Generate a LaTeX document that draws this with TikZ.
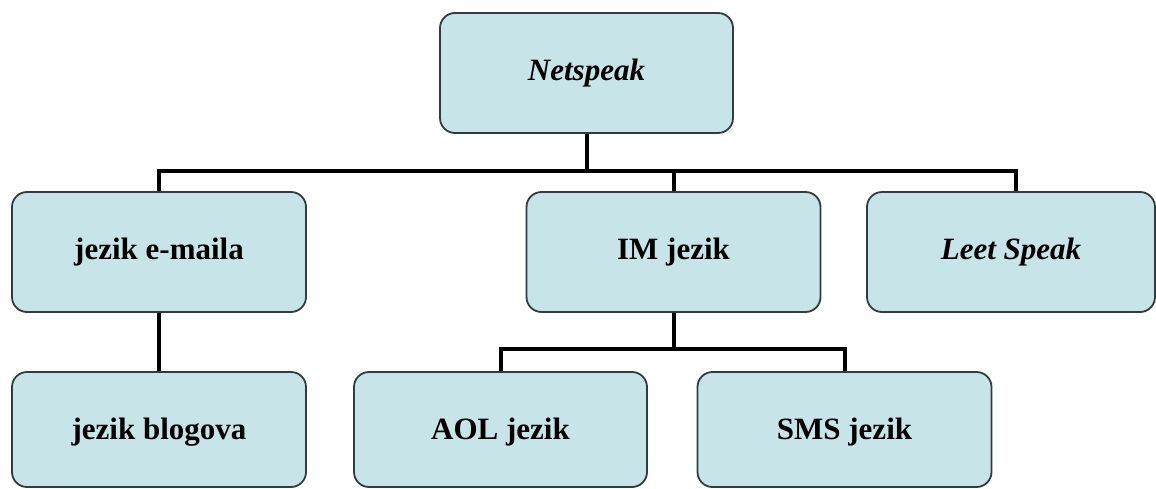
\documentclass[tikz,border=0pt]{standalone}
\usepackage{fontspec}
\setmainfont{Liberation Serif}
\usetikzlibrary{calc}
\definecolor{boxfill}{RGB}{199,228,232}
\definecolor{boxline}{RGB}{50,60,62}
\begin{document}
\begin{tikzpicture}[x=1pt,y=-1pt,
  box/.style={draw=boxline, line width=1.8pt, fill=boxfill, rounded corners=15pt,
    minimum width=294pt, minimum height=120pt, inner sep=0pt,
    text height=20pt, text depth=6pt,
    font=\fontsize{31}{36}\selectfont\bfseries},
  lowbox/.style={box, minimum height=115pt, text height=22pt, text depth=3pt},
  link/.style={line width=4pt, black, line join=miter}]
\useasboundingbox (0,0) rectangle (1156,488);
\fill[white] (0,0) rectangle (1156,488);
\node[box, minimum width=293pt] (net) at (586.5,73) {\textit{Netspeak}};
\node[box] (email) at (159,252) {jezik e-maila};
\node[box] (im) at (673.5,252) {IM jezik};
\node[box, minimum width=288pt] (leet) at (1011,252) {\textit{Leet Speak}};
\node[lowbox] (blog) at (159,429.5) {jezik blogova};
\node[lowbox, minimum width=293pt] (aol) at (500.5,429.5) {AOL jezik};
\node[lowbox] (sms) at (844.5,429.5) {SMS jezik};
\coordinate (j1) at ($(net.south)+(0,37)$);
\coordinate (leettop) at ($(leet.north)+(5,0)$);
\coordinate (j2) at ($(im.south)+(0,36)$);
\draw[link] (net.south) -- (j1);
\draw[link] (email.north) |- (j1) -| (leettop);
\draw[link] (im.north) -- (im.north |- j1);
\draw[link] (email.south) -- (blog.north);
\draw[link] (im.south) -- (j2);
\draw[link] (aol.north) |- (j2) -| (sms.north);
\end{tikzpicture}
\end{document}
